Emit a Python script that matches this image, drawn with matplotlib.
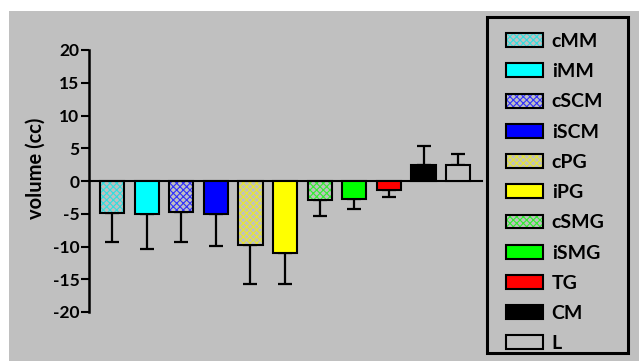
import matplotlib
matplotlib.use("Agg")
import matplotlib.pyplot as plt
from matplotlib.patches import Patch, Rectangle
import numpy as np

categories = ["cMM", "iMM", "cSCM", "iSCM", "cPG", "iPG", "cSMG", "iSMG", "TG", "CM", "L"]
values = [-4.85, -5.1, -4.75, -5.0, -9.8, -11.05, -2.9, -2.7, -1.3, 2.5, 2.5]
errors = [4.4, 5.3, 4.55, 4.85, 5.85, 4.6, 2.5, 1.5, 1.2, 2.85, 1.6]
colors = ["#30e0e0", "#00ffff", "#3030ff", "#0000ff", "#e8e830", "#ffff00",
          "#30f030", "#00ff00", "#ff0000", "#000000", "#c0c0c0"]
hatched = [True, False, True, False, True, False, True, False, False, False, False]
yticks = [-20, -15, -10, -5, 0, 5, 10, 15, 20]

BG = "#c0c0c0"
plt.rcParams['font.family'] = ['Lato', 'DejaVu Sans']
plt.rcParams['font.weight'] = 'bold'
plt.rcParams['hatch.linewidth'] = 0.8

fig = plt.figure(figsize=(6.39, 3.61), dpi=100)
fig.patch.set_facecolor("white")
fig.patches.append(Rectangle((9 / 639, 0), 1, 1 - 11 / 361, transform=fig.transFigure,
                             facecolor=BG, edgecolor="none", zorder=-10))
# legend frame
fig.patches.append(Rectangle((487 / 639, 1 - 353 / 361), (628 - 487) / 639, (353 - 17) / 361,
                             transform=fig.transFigure, facecolor="none",
                             edgecolor="black", linewidth=2.2, zorder=5))

ax = fig.add_axes([89 / 639, 1 - 312 / 361, (482 - 89) / 639, (312 - 50) / 361])
ax.set_facecolor("none")

x = np.arange(len(categories))
width = 0.7
HATCH = "xxxxx"
handles = []
for i, (v, c, h) in enumerate(zip(values, colors, hatched)):
    if h:
        ax.bar(x[i], v, width, color=BG, edgecolor=c, hatch=HATCH, linewidth=0, zorder=2)
        ax.bar(x[i], v, width, fill=False, edgecolor="black", linewidth=1.5, zorder=3)
        handles.append((Patch(facecolor=BG, edgecolor=c, hatch=HATCH, linewidth=0),
                        Patch(fill=False, edgecolor="black", linewidth=1.5)))
    else:
        ax.bar(x[i], v, width, color=c, edgecolor="black", linewidth=1.5, zorder=3)
        handles.append(Patch(facecolor=c, edgecolor="black", linewidth=1.5))

vals = np.array(values)
errs = np.array(errors)
lower = np.where(vals < 0, errs, 0)
upper = np.where(vals >= 0, errs, 0)
ax.errorbar(x, vals, yerr=[lower, upper], fmt="none", ecolor="black",
            elinewidth=1.6, capsize=5, capthick=1.6, zorder=1)

ax.set_xlim(-0.665, 10.69)
ax.set_ylim(-20, 20)
ax.set_yticks(yticks)
ax.set_yticklabels([str(t) for t in yticks], fontsize=12.5, fontweight="bold")
ax.set_xticks([])
for s in ["top", "right"]:
    ax.spines[s].set_visible(False)
ax.spines["bottom"].set_position(("data", 0))
ax.spines["bottom"].set_linewidth(1.5)
ax.spines["left"].set_linewidth(1.8)
ax.tick_params(axis="y", direction="out", length=5.5, width=1.5, pad=1.5)
ax.set_ylabel("volume (cc)", fontsize=14.5, fontweight="bold")
ax.yaxis.set_label_coords(-0.11, 0.55)

fs = 14
leg = fig.legend(handles, categories, loc="upper left",
                 bbox_to_anchor=(506 / 639, 1 - 33 / 361), bbox_transform=fig.transFigure,
                 frameon=False, borderaxespad=0, borderpad=0,
                 handlelength=1.9, handleheight=0.72, handletextpad=0.45,
                 labelspacing=0.68, prop={"weight": "bold", "size": fs})

fig.savefig("out.png", dpi=100)
